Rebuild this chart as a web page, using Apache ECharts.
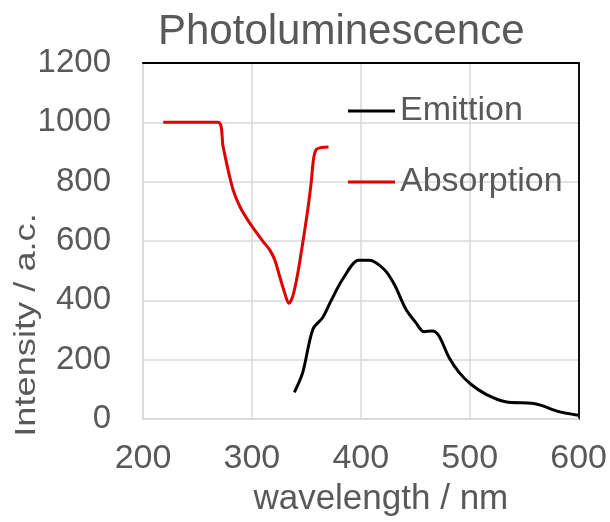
<!DOCTYPE html>
<html><head><meta charset="utf-8">
<script src="https://cdn.jsdelivr.net/npm/echarts@6/dist/echarts.min.js"></script>
<style>html,body{margin:0;padding:0;background:#fff}#c{width:610px;height:522px}</style>
</head><body><div id="c"></div>
<script>
const titleText = 'Photoluminescence';
const xName = 'wavelength / nm';
const yName = 'Intensity / a.c.';
const seriesNames = ['Emittion', 'Absorption'];

const absorptionX = [218.6, 268.9, 273.5, 278.1, 282.7, 288.8, 297.9, 310.1, 316.2, 320.8, 325.4, 330.0, 333.9, 337.6, 342.2, 346.7, 351.3, 354.4, 356.5, 359.0, 363.6, 370.3];
const absorptionY = [1000, 1000, 919, 840, 773, 717, 661, 599, 571, 538, 482, 426, 390, 415, 493, 594, 706, 796, 874, 908, 915, 917];

const emissionX = [339.0, 346.7, 355.9, 365.0, 372.6, 383.3, 398.0, 407.8, 421.5, 430.7, 441.4, 450.5, 458.1, 465.7, 471.8, 481.0, 490.2, 500.8, 514.6, 532.9, 557.0, 566.4, 581.7, 599.4];
const emissionY = [90, 157, 302, 342, 398, 471, 535, 535, 504, 454, 370, 325, 294, 297, 280, 207, 157, 118, 84, 58, 53, 45, 25, 13];

const zip = (xs, ys) => xs.map((x, i) => [x, ys[i]]);
const txt = '#595959';
const ff = '"Liberation Sans", Arial, sans-serif';

const chart = echarts.init(document.getElementById('c'), null, {renderer: 'canvas'});
chart.setOption({
  animation: false,
  backgroundColor: '#fff',
  title: {text: titleText, left: 158, top: 11, padding: 0,
    textStyle: {color: txt, fontSize: 42, fontWeight: 'normal', fontFamily: ff}},
  grid: {left: 143, right: 30, top: 63, bottom: 102, containLabel: false},
  legend: {orient: 'vertical', left: 348, top: 94, padding: 0, itemWidth: 47, itemHeight: 3, itemGap: 37,
    icon: 'rect', data: seriesNames,
    textStyle: {color: txt, fontSize: 34, fontFamily: ff}},
  xAxis: [{type: 'value', min: 200, max: 600, interval: 100,
    name: xName, nameLocation: 'middle', nameGap: 63,
    nameTextStyle: {color: txt, fontSize: 35, fontFamily: ff, padding: [0, 0, 0, 40]},
    axisLine: {show: true, lineStyle: {color: '#d9d9d9', width: 1.5}},
    axisTick: {show: false},
    axisLabel: {color: txt, fontSize: 34, fontFamily: ff, margin: 23, formatter: v => String(v)},
    splitLine: {show: true, lineStyle: {color: '#d9d9d9', width: 1.5}}},
    {type: 'value', position: 'top', min: 200, max: 600,
    axisLine: {show: true, onZero: false, lineStyle: {color: '#000', width: 2}},
    axisTick: {show: false}, axisLabel: {show: false}, splitLine: {show: false}}],
  yAxis: [{type: 'value', min: 0, max: 1200, interval: 200,
    axisLine: {show: true, lineStyle: {color: '#d9d9d9', width: 1.5}},
    axisTick: {show: false},
    axisLabel: {color: txt, fontSize: 33, fontFamily: ff, margin: 32, formatter: v => String(v)},
    splitLine: {show: true, lineStyle: {color: '#d9d9d9', width: 1.5}}},
    {type: 'value', position: 'right', min: 0, max: 1200,
    axisLine: {show: true, onZero: false, lineStyle: {color: '#111', width: 2}},
    axisTick: {show: false}, axisLabel: {show: false}, splitLine: {show: false}}],
  graphic: [{type: 'text', x: 27, y: 325, rotation: Math.PI / 2, scaleX: 1.25,
    style: {text: yName, fill: txt, font: '29px ' + ff, textAlign: 'center', textVerticalAlign: 'middle'}}],
  series: [
    {name: seriesNames[0], type: 'line', data: zip(emissionX, emissionY), showSymbol: false, symbol: 'none',
      smooth: 0.3, color: '#000', lineStyle: {color: '#000', width: 3}},
    {name: seriesNames[1], type: 'line', data: zip(absorptionX, absorptionY), showSymbol: false, symbol: 'none',
      smooth: 0.3, color: '#e00000', lineStyle: {color: '#e00000', width: 3}}
  ]
});
</script></body></html>
